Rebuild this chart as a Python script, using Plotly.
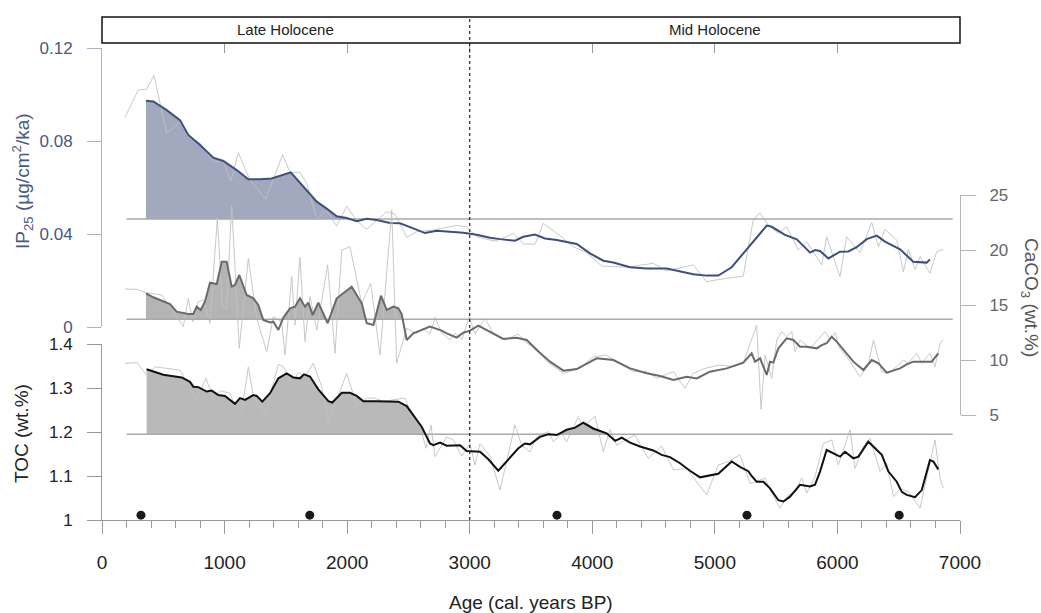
import plotly.graph_objects as go

# ---------------- data ----------------
# IP25 flux, 3-point smoothed record
ip_smooth_age = [359, 419, 528, 636, 704, 800, 908, 990, 1099, 1194, 1289, 1384, 1540, 1643, 1752, 1833, 1915, 1996,
                 2078, 2160, 2241, 2350, 2431, 2540, 2635, 2731, 2839, 2948, 3057, 3166, 3247, 3369, 3437, 3533, 3614,
                 3710, 3873, 3981, 4090, 4172, 4308, 4444, 4607, 4716, 4824, 4933, 5028, 5137, 5287, 5423, 5464, 5572,
                 5668, 5777, 5817, 5858, 5926, 6021, 6089, 6157, 6239, 6321, 6388, 6511, 6619, 6728, 6755]
ip_smooth = [0.0973, 0.0970, 0.0933, 0.0890, 0.0826, 0.0783, 0.0728, 0.0714, 0.0675, 0.0635, 0.0636, 0.0639, 0.0665,
             0.0603, 0.0539, 0.0509, 0.0476, 0.0469, 0.0455, 0.0466, 0.0460, 0.0447, 0.0446, 0.0424, 0.0404, 0.0414,
             0.0411, 0.0405, 0.0397, 0.0384, 0.0378, 0.0371, 0.0388, 0.0398, 0.0381, 0.0374, 0.0357, 0.0317, 0.0285,
             0.0277, 0.0257, 0.0252, 0.0252, 0.0241, 0.0227, 0.0221, 0.0221, 0.0257, 0.0353, 0.0436, 0.0431, 0.0396,
             0.0377, 0.0320, 0.0331, 0.0327, 0.0295, 0.0324, 0.0325, 0.0343, 0.0378, 0.0393, 0.0367, 0.0334, 0.0281,
             0.0277, 0.0291]
# IP25 flux, raw samples
ip_raw_age = [188, 296, 364, 424, 528, 636, 704, 800, 908, 990, 1052, 1112, 1207, 1336, 1474, 1534, 1615, 1670, 1752,
              1833, 1915, 1996, 2078, 2160, 2323, 2390, 2486, 2567, 2703, 2812, 2894, 2975, 3057, 3166, 3220, 3356,
              3437, 3533, 3601, 3710, 3845, 3954, 4077, 4281, 4498, 4607, 4824, 4933, 5042, 5232, 5314, 5369, 5423,
              5518, 5586, 5681, 5749, 5872, 5912, 6021, 6075, 6184, 6280, 6335, 6388, 6484, 6538, 6579, 6633, 6674,
              6755, 6810, 6864]
ip_raw = [0.0902, 0.1019, 0.1023, 0.1082, 0.0833, 0.0883, 0.0818, 0.0790, 0.0711, 0.0711, 0.0628, 0.0750, 0.0632,
          0.0550, 0.0741, 0.0665, 0.0665, 0.0618, 0.0463, 0.0503, 0.0434, 0.0520, 0.0457, 0.0420, 0.0496, 0.0485,
          0.0386, 0.0410, 0.0417, 0.0429, 0.0437, 0.0431, 0.0388, 0.0374, 0.0370, 0.0403, 0.0357, 0.0356, 0.0446,
          0.0403, 0.0345, 0.0320, 0.0262, 0.0257, 0.0274, 0.0242, 0.0267, 0.0195, 0.0205, 0.0219, 0.0463, 0.0490,
          0.0446, 0.0403, 0.0431, 0.0331, 0.0367, 0.0267, 0.0388, 0.0216, 0.0388, 0.0320, 0.0449, 0.0345, 0.0420,
          0.0374, 0.0238, 0.0334, 0.0248, 0.0302, 0.0231, 0.0324, 0.0334]
ip_mean = 0.0465

# CaCO3 content, smoothed
ca_smooth_age = [359, 419, 555, 609, 704, 745, 772, 805, 840, 881, 936, 977, 1017, 1058, 1085, 1120, 1180, 1235, 1275,
                 1316, 1371, 1398, 1439, 1479, 1534, 1575, 1615, 1656, 1683, 1719, 1765, 1841, 1915, 2037, 2119, 2160,
                 2214, 2276, 2323, 2377, 2418, 2445, 2486, 2540, 2676, 2771, 2812, 2894, 2948, 3002, 3070, 3193, 3274,
                 3383, 3465, 3547, 3655, 3764, 3873, 4036, 4172, 4308, 4444, 4553, 4662, 4770, 4852, 4960, 5097, 5232,
                 5300, 5328, 5369, 5423, 5450, 5477, 5518, 5586, 5641, 5695, 5749, 5831, 5872, 5912, 5953, 5994, 6048,
                 6130, 6212, 6280, 6335, 6402, 6511, 6565, 6619, 6728, 6769, 6823]
ca_smooth = [16.06, 15.70, 15.09, 14.39, 14.18, 14.18, 14.85, 14.55, 15.30, 17.03, 16.91, 18.94, 18.94, 16.67, 16.82,
             17.73, 15.91, 15.61, 15.00, 13.64, 13.42, 13.48, 12.73, 13.85, 14.70, 14.85, 15.61, 14.85, 15.21, 14.09,
             15.21, 13.34, 15.61, 16.67, 15.15, 13.34, 13.18, 15.85, 14.55, 14.85, 14.70, 14.18, 11.82, 12.42, 13.03,
             12.67, 12.42, 12.03, 12.48, 12.67, 13.12, 12.42, 11.91, 12.03, 11.82, 10.91, 9.85, 9.03, 9.18, 10.15,
             10.00, 9.24, 8.79, 8.55, 8.18, 8.48, 8.33, 8.94, 9.24, 9.76, 10.61, 9.85, 10.15, 8.64, 9.85, 9.76, 11.06,
             11.97, 11.82, 11.21, 11.21, 11.06, 11.36, 11.52, 12.12, 11.67, 10.91, 9.85, 9.09, 10.00, 9.70, 8.85, 9.24,
             9.61, 9.85, 9.85, 9.85, 10.61]
# CaCO3 content, raw samples
ca_raw_age = [188, 283, 364, 487, 555, 609, 663, 704, 740, 786, 832, 881, 941, 984, 1017, 1058, 1120, 1194, 1262, 1344,
              1398, 1466, 1493, 1548, 1575, 1615, 1656, 1697, 1752, 1841, 1901, 1956, 2023, 2119, 2192, 2268, 2364,
              2404, 2486, 2567, 2622, 2676, 2717, 2771, 2839, 2880, 2935, 2997, 3043, 3125, 3193, 3288, 3397, 3465,
              3547, 3628, 3764, 3900, 4008, 4117, 4199, 4335, 4444, 4525, 4662, 4756, 4824, 4919, 5042, 5151, 5232,
              5341, 5377, 5410, 5464, 5505, 5545, 5586, 5627, 5654, 5695, 5777, 5899, 5940, 5980, 6021, 6103, 6184,
              6252, 6294, 6362, 6416, 6484, 6538, 6579, 6647, 6688, 6755, 6796, 6837, 6864]
ca_raw = [16.45, 16.42, 16.12, 15.91, 14.70, 13.94, 13.03, 15.61, 13.48, 15.30, 15.45, 13.34, 22.88, 14.70, 14.70,
          24.09, 11.06, 19.24, 13.79, 10.76, 13.94, 13.48, 10.45, 17.58, 13.18, 19.33, 11.67, 15.76, 12.73, 18.64,
          10.61, 20.00, 20.30, 15.15, 16.97, 10.45, 23.64, 9.70, 12.88, 12.42, 12.88, 12.36, 13.88, 12.48, 11.82,
          12.42, 11.88, 13.94, 12.36, 13.79, 12.42, 11.82, 12.36, 11.52, 11.06, 9.85, 8.79, 9.24, 10.30, 10.45, 9.85,
          8.94, 8.94, 8.33, 8.94, 7.42, 8.79, 9.24, 9.55, 9.39, 9.70, 13.18, 5.52, 10.45, 8.33, 11.82, 12.58, 12.12,
          12.58, 10.76, 11.82, 11.06, 12.58, 11.82, 12.48, 11.06, 9.85, 8.48, 9.55, 11.82, 8.94, 8.79, 9.39, 10.00,
          9.70, 10.61, 9.70, 10.61, 9.39, 11.52, 11.82]
ca_mean = 13.7

# Total organic carbon, smoothed
toc_smooth_age = [364, 432, 500, 650, 718, 745, 786, 854, 895, 949, 1003, 1085, 1126, 1167, 1234, 1262, 1308, 1371,
                  1439, 1507, 1561, 1615, 1648, 1697, 1765, 1847, 1879, 1956, 2023, 2078, 2132, 2241, 2350, 2418, 2486,
                  2540, 2608, 2676, 2703, 2758, 2812, 2921, 2975, 3084, 3152, 3233, 3288, 3329, 3397, 3451, 3492, 3573,
                  3641, 3710, 3791, 3859, 3927, 4008, 4117, 4186, 4240, 4308, 4389, 4498, 4566, 4634, 4716, 4797, 4879,
                  5028, 5137, 5205, 5273, 5300, 5341, 5396, 5450, 5518, 5559, 5613, 5695, 5777, 5817, 5858, 5912, 6021,
                  6062, 6130, 6171, 6252, 6307, 6362, 6416, 6484, 6525, 6565, 6633, 6688, 6755, 6783, 6823]
toc_smooth = [1.3425, 1.337, 1.330, 1.324, 1.314, 1.303, 1.302, 1.292, 1.294, 1.284, 1.282, 1.264, 1.277, 1.273, 1.284,
              1.282, 1.269, 1.288, 1.322, 1.333, 1.324, 1.322, 1.331, 1.326, 1.297, 1.270, 1.267, 1.289, 1.289, 1.282,
              1.270, 1.270, 1.270, 1.269, 1.259, 1.239, 1.212, 1.174, 1.170, 1.176, 1.169, 1.170, 1.157, 1.155, 1.138,
              1.112, 1.129, 1.140, 1.163, 1.174, 1.172, 1.189, 1.195, 1.193, 1.205, 1.210, 1.221, 1.208, 1.197, 1.180,
              1.187, 1.176, 1.167, 1.158, 1.148, 1.143, 1.129, 1.112, 1.097, 1.105, 1.133, 1.121, 1.111, 1.100, 1.087,
              1.087, 1.072, 1.045, 1.042, 1.053, 1.080, 1.076, 1.080, 1.110, 1.159, 1.144, 1.155, 1.140, 1.144, 1.178,
              1.163, 1.148, 1.110, 1.087, 1.064, 1.057, 1.052, 1.068, 1.136, 1.133, 1.115]
# Total organic carbon, raw samples
toc_raw_age = [188, 283, 364, 432, 636, 704, 772, 848, 908, 963, 1044, 1099, 1139, 1194, 1234, 1330, 1439, 1480, 1548,
               1602, 1656, 1724, 1792, 1847, 1928, 1996, 2078, 2160, 2228, 2296, 2391, 2472, 2527, 2594, 2643, 2684,
               2717, 2812, 2866, 2935, 3002, 3043, 3084, 3166, 3247, 3369, 3424, 3492, 3547, 3641, 3683, 3750, 3791,
               3886, 3927, 4022, 4090, 4144, 4199, 4348, 4457, 4566, 4662, 4770, 4933, 5028, 5110, 5205, 5287, 5410,
               5450, 5532, 5600, 5654, 5709, 5749, 5817, 5885, 5953, 6007, 6103, 6144, 6212, 6266, 6348, 6402, 6457,
               6511, 6579, 6674, 6742, 6796, 6837, 6864]
toc_raw = [1.356, 1.358, 1.330, 1.348, 1.341, 1.307, 1.273, 1.322, 1.277, 1.294, 1.288, 1.248, 1.246, 1.348, 1.282,
           1.239, 1.354, 1.348, 1.311, 1.335, 1.326, 1.356, 1.303, 1.223, 1.284, 1.333, 1.261, 1.277, 1.277, 1.269,
           1.274, 1.277, 1.239, 1.216, 1.163, 1.216, 1.144, 1.189, 1.182, 1.145, 1.174, 1.125, 1.174, 1.145, 1.068,
           1.216, 1.170, 1.155, 1.189, 1.201, 1.178, 1.197, 1.178, 1.235, 1.212, 1.236, 1.155, 1.206, 1.170, 1.193,
           1.140, 1.168, 1.114, 1.117, 1.057, 1.125, 1.133, 1.148, 1.083, 1.095, 1.068, 1.027, 1.057, 1.064, 1.095,
           1.061, 1.098, 1.174, 1.182, 1.125, 1.205, 1.117, 1.167, 1.186, 1.110, 1.129, 1.053, 1.072, 1.064, 1.027,
           1.114, 1.182, 1.095, 1.072]
toc_mean = 1.195

# Radiocarbon-dated levels
dated_age = [318, 1695, 3712, 5262, 6504]
dated_marker_level = 1.011

# Horizontal extent of the mean reference lines
mean_line_span = [200, 6940]

# Climate periods
period_bounds = [0, 3000, 7000]
period_names = ["Late Holocene", "Mid Holocene"]

x_ticks = [0, 1000, 2000, 3000, 4000, 5000, 6000, 7000]
ip_ticks = [0, 0.04, 0.08, 0.12]
ip_tick_text = ["0", "0.04", "0.08", "0.12"]
ca_ticks = [5, 10, 15, 20, 25]
toc_ticks = [1.0, 1.1, 1.2, 1.3, 1.4]
toc_tick_text = ["1", "1.1", "1.2", "1.3", "1.4"]

# ---------------- layout helpers ----------------
W, H = 1041, 613
FONT = "Liberation Sans, Arial, Helvetica, sans-serif"
X_DOM = [102 / W, 960 / W]


def py(p):
    """pixel row -> paper y"""
    return 1 - p / H


def xpaper(age):
    return X_DOM[0] + (age - period_bounds[0]) / (period_bounds[-1] - period_bounds[0]) * (X_DOM[1] - X_DOM[0])


def fill_above(xs, ys, base):
    """Polygon of the area between a curve and a base level, where the curve lies above it."""
    px, pyy = [], []
    for i in range(len(xs)):
        if i > 0:
            y0, y1 = ys[i - 1], ys[i]
            if (y0 - base) * (y1 - base) < 0:
                t = (base - y0) / (y1 - y0)
                px.append(xs[i - 1] + t * (xs[i] - xs[i - 1]))
                pyy.append(base)
        px.append(xs[i])
        pyy.append(max(ys[i], base))
    return px + [px[-1], px[0]], pyy + [base, base]


fig = go.Figure()

RAW = dict(color="#c2c2c2", width=0.9)
MEAN = dict(color="#a9a9a9", width=1.5)

panels = [
    ("y", ip_smooth_age, ip_smooth, ip_raw_age, ip_raw, ip_mean, "#a2a8bd", "#3d4f7c"),
    ("y2", ca_smooth_age, ca_smooth, ca_raw_age, ca_raw, ca_mean, "#b4b4b4", "#6a6a6a"),
    ("y3", toc_smooth_age, toc_smooth, toc_raw_age, toc_raw, toc_mean, "#b9b9b9", "#111111"),
]
for yref, s_age, s_val, r_age, r_val, base, fill_col, line_col in panels:
    fx, fy = fill_above(s_age, s_val, base)
    fig.add_trace(go.Scatter(x=fx, y=fy, yaxis=yref, mode="lines", fill="toself",
                             fillcolor=fill_col, line=dict(width=0), hoverinfo="skip"))
    fig.add_trace(go.Scatter(x=r_age, y=r_val, yaxis=yref, mode="lines", line=RAW))
    fig.add_trace(go.Scatter(x=mean_line_span, y=[base, base], yaxis=yref, mode="lines", line=MEAN))
    fig.add_trace(go.Scatter(x=s_age, y=s_val, yaxis=yref, mode="lines", line=dict(color=line_col, width=2)))

fig.add_trace(go.Scatter(x=dated_age, y=[dated_marker_level] * len(dated_age), yaxis="y3", mode="markers",
                         marker=dict(color="#1a1a1a", size=9), cliponaxis=False))
# carrier for the top tick row
fig.add_trace(go.Scatter(x=[None], y=[None], xaxis="x2", yaxis="y", mode="lines"))

# period bar
shapes = [dict(type="rect", xref="paper", yref="paper", x0=xpaper(period_bounds[0]), x1=xpaper(period_bounds[-1]),
               y0=py(43), y1=py(17), line=dict(color="#111111", width=1.5), layer="above"),
          dict(type="line", xref="x", yref="paper", x0=period_bounds[1], x1=period_bounds[1], y0=py(520), y1=py(17),
               line=dict(color="#222222", width=1.2, dash="dot"), layer="above")]
annotations = []
for i, name in enumerate(period_names):
    annotations.append(dict(x=(period_bounds[i] + period_bounds[i + 1]) / 2, xref="x", y=py(30), yref="paper",
                            xanchor="center", yanchor="middle",
                            text=name, showarrow=False, font=dict(family=FONT, size=15, color="#222222")))

TITLE = dict(xref="paper", yref="paper", xanchor="center", yanchor="middle", showarrow=False)
annotations += [
    dict(x=22 / W, y=py(181), textangle=-90, text="IP<sub>25</sub> (µg/cm<sup>2</sup>/ka)",
         font=dict(family=FONT, size=19, color="#4a5780"), **TITLE),
    dict(x=21 / W, y=py(434), textangle=-90, text="TOC (wt.%)",
         font=dict(family=FONT, size=19, color="#222222"), **TITLE),
    dict(x=1030 / W, y=py(297), textangle=90, text="CaCO<sub>3</sub> (wt.%)",
         font=dict(family=FONT, size=19, color="#555555"), **TITLE),
    dict(x=(X_DOM[0] + X_DOM[1]) / 2, y=py(602), text="Age (cal. years BP)",
         font=dict(family=FONT, size=19, color="#222222"), **TITLE),
]

fig.update_layout(
    width=W, height=H, margin=dict(l=0, r=0, t=0, b=0, autoexpand=False),
    paper_bgcolor="white", plot_bgcolor="rgba(0,0,0,0)", showlegend=False,
    shapes=shapes, annotations=annotations,
    xaxis=dict(domain=X_DOM, range=[period_bounds[0], period_bounds[-1]], anchor="y3", automargin=False,
               tickvals=x_ticks, ticks="outside", ticklen=13, tickwidth=1, tickcolor="#9a9a9a",
               minor=dict(dtick=200, tick0=0, ticks="outside", ticklen=7, tickcolor="#9a9a9a"),
               showline=True, linecolor="#9a9a9a", linewidth=1, showgrid=False, zeroline=False,
               tickfont=dict(family=FONT, size=19, color="#222222"), ticklabelstandoff=12),
    xaxis2=dict(overlaying="x", side="top", anchor="free", position=py(43), automargin=False,
                range=[period_bounds[0], period_bounds[-1]], tickvals=x_ticks[1:-1], ticks="inside", ticklen=9,
                tickcolor="#9a9a9a", showticklabels=False, showline=False, showgrid=False, zeroline=False),
    yaxis=dict(domain=[py(327), py(48)], range=[0, 0.12], anchor="x", automargin=False,
               tickvals=ip_ticks, ticktext=ip_tick_text,
               ticks="outside", ticklen=14, tickcolor="#adb3c8", showline=True, linecolor="#adb3c8",
               showgrid=False, zeroline=False, tickfont=dict(family=FONT, size=17, color="#4a5780"),
               ticklabelstandoff=11),
    yaxis2=dict(domain=[py(415), py(195)], range=[5, 25], anchor="x", side="right", automargin=False,
                tickvals=ca_ticks,
                ticks="outside", ticklen=15, tickcolor="#b5b5b5", showline=True, linecolor="#b5b5b5",
                showgrid=False, zeroline=False, tickfont=dict(family=FONT, size=17, color="#666666"),
                ticklabelstandoff=10),
    yaxis3=dict(domain=[py(520), py(344)], range=[1.0, 1.4], anchor="x", automargin=False,
                tickvals=toc_ticks,
                ticktext=toc_tick_text, ticks="outside", ticklen=14, tickcolor="#9a9a9a", showline=True,
                linecolor="#9a9a9a", showgrid=False, zeroline=False,
                tickfont=dict(family=FONT, size=17, color="#222222"), ticklabelstandoff=11),
)

fig.write_html("out.html")
